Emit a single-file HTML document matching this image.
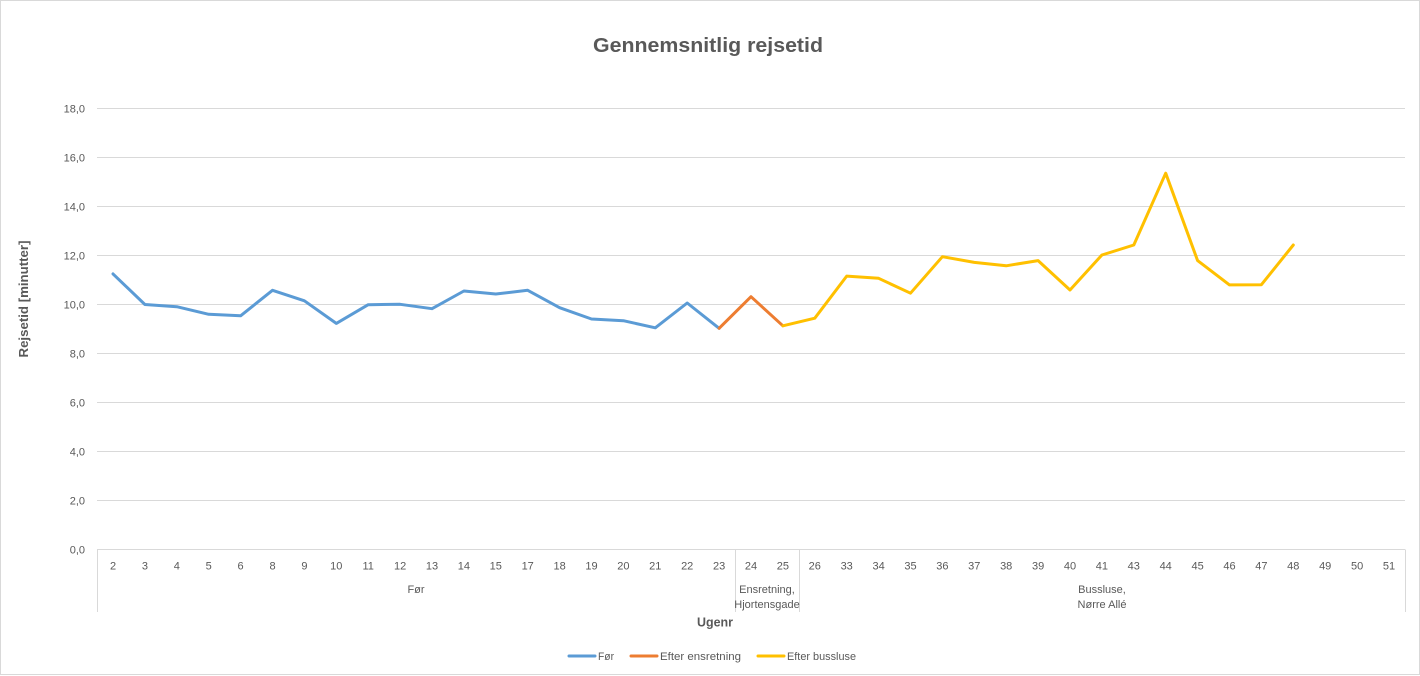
<!DOCTYPE html>
<html>
<head>
<meta charset="utf-8">
<style>
html,body{margin:0;padding:0;background:#fff;}
svg{display:block;}
text{font-family:"Liberation Sans",Arial,sans-serif;fill:#595959;}
</style>
</head>
<body>
<svg width="1420" height="676" viewBox="0 0 1420 676" xmlns="http://www.w3.org/2000/svg">
<rect x="0.5" y="0.5" width="1419" height="674" fill="#fff" stroke="#d9d9d9" stroke-width="1"/>
<text x="708" y="52" font-size="20" font-weight="bold" text-anchor="middle" textLength="230" lengthAdjust="spacingAndGlyphs">Gennemsnitlig rejsetid</text>
<g stroke="#d9d9d9" stroke-width="1">
<line x1="97" y1="108.5" x2="1405" y2="108.5"/>
<line x1="97" y1="157.5" x2="1405" y2="157.5"/>
<line x1="97" y1="206.5" x2="1405" y2="206.5"/>
<line x1="97" y1="255.5" x2="1405" y2="255.5"/>
<line x1="97" y1="304.5" x2="1405" y2="304.5"/>
<line x1="97" y1="353.5" x2="1405" y2="353.5"/>
<line x1="97" y1="402.5" x2="1405" y2="402.5"/>
<line x1="97" y1="451.5" x2="1405" y2="451.5"/>
<line x1="97" y1="500.5" x2="1405" y2="500.5"/>
<line x1="97" y1="549.5" x2="1405" y2="549.5"/>
<line x1="97.5" y1="549.5" x2="97.5" y2="612"/>
<line x1="735.5" y1="549.5" x2="735.5" y2="612"/>
<line x1="799.5" y1="549.5" x2="799.5" y2="612"/>
<line x1="1405.5" y1="549.5" x2="1405.5" y2="612"/>
</g>
<g font-size="11" text-anchor="end">
<text x="85" y="112.5">18,0</text>
<text x="85" y="161.5">16,0</text>
<text x="85" y="210.5">14,0</text>
<text x="85" y="259.5">12,0</text>
<text x="85" y="308.5">10,0</text>
<text x="85" y="357.5">8,0</text>
<text x="85" y="406.5">6,0</text>
<text x="85" y="455.5">4,0</text>
<text x="85" y="504.5">2,0</text>
<text x="85" y="553.5">0,0</text>
</g>
<text transform="translate(28,299) rotate(-90)" font-size="12.5" font-weight="bold" text-anchor="middle" textLength="117" lengthAdjust="spacingAndGlyphs">Rejsetid [minutter]</text>
<g font-size="11" text-anchor="middle">
<text x="113" y="569.5">2</text>
<text x="144.9" y="569.5">3</text>
<text x="176.8" y="569.5">4</text>
<text x="208.7" y="569.5">5</text>
<text x="240.6" y="569.5">6</text>
<text x="272.5" y="569.5">8</text>
<text x="304.4" y="569.5">9</text>
<text x="336.3" y="569.5">10</text>
<text x="368.2" y="569.5">11</text>
<text x="400.1" y="569.5">12</text>
<text x="432" y="569.5">13</text>
<text x="463.9" y="569.5">14</text>
<text x="495.8" y="569.5">15</text>
<text x="527.7" y="569.5">17</text>
<text x="559.6" y="569.5">18</text>
<text x="591.5" y="569.5">19</text>
<text x="623.4" y="569.5">20</text>
<text x="655.3" y="569.5">21</text>
<text x="687.2" y="569.5">22</text>
<text x="719.1" y="569.5">23</text>
<text x="751" y="569.5">24</text>
<text x="782.9" y="569.5">25</text>
<text x="814.8" y="569.5">26</text>
<text x="846.7" y="569.5">33</text>
<text x="878.6" y="569.5">34</text>
<text x="910.5" y="569.5">35</text>
<text x="942.4" y="569.5">36</text>
<text x="974.3" y="569.5">37</text>
<text x="1006.2" y="569.5">38</text>
<text x="1038.1" y="569.5">39</text>
<text x="1070" y="569.5">40</text>
<text x="1101.9" y="569.5">41</text>
<text x="1133.8" y="569.5">43</text>
<text x="1165.7" y="569.5">44</text>
<text x="1197.6" y="569.5">45</text>
<text x="1229.5" y="569.5">46</text>
<text x="1261.4" y="569.5">47</text>
<text x="1293.3" y="569.5">48</text>
<text x="1325.2" y="569.5">49</text>
<text x="1357.1" y="569.5">50</text>
<text x="1389" y="569.5">51</text>
<text x="416" y="593">Før</text>
<text x="767" y="593">Ensretning,</text>
<text x="767" y="608">Hjortensgade</text>
<text x="1102" y="593">Bussluse,</text>
<text x="1102" y="608">Nørre Allé</text>
</g>
<text x="715" y="626.5" font-size="12.5" font-weight="bold" text-anchor="middle" textLength="36" lengthAdjust="spacingAndGlyphs">Ugenr</text>
<g fill="none" stroke-width="3" stroke-linejoin="round" stroke-linecap="round">
<polyline stroke="#5b9bd5" points="113,273.9 144.9,304.5 176.8,306.7 208.7,314.3 240.6,315.8 272.5,290.3 304.4,300.8 336.3,323.4 368.2,304.7 400.1,304.3 432,308.7 463.9,291 495.8,294 527.7,290.3 559.6,307.7 591.5,319 623.4,320.7 655.3,327.8 687.2,303 719.1,328.3"/>
<polyline stroke="#ed7d31" points="719.1,328.3 751,296.7 782.9,325.8"/>
<polyline stroke="#ffc000" points="782.9,325.8 814.8,318.2 846.7,276.1 878.6,278.3 910.5,293.2 942.4,256.7 974.3,262.4 1006.2,265.8 1038.1,260.6 1070,290 1101.9,255 1133.8,245 1165.7,173.2 1197.6,260.6 1229.5,284.9 1261.4,284.7 1293.3,245"/>
</g>
<g stroke-width="3" stroke-linecap="round">
<line x1="569" y1="656" x2="595" y2="656" stroke="#5b9bd5"/>
<line x1="631" y1="656" x2="657" y2="656" stroke="#ed7d31"/>
<line x1="758" y1="656" x2="784" y2="656" stroke="#ffc000"/>
</g>
<g font-size="11">
<text x="598" y="660" textLength="16" lengthAdjust="spacingAndGlyphs">Før</text>
<text x="660" y="660" textLength="81" lengthAdjust="spacingAndGlyphs">Efter ensretning</text>
<text x="787" y="660" textLength="69" lengthAdjust="spacingAndGlyphs">Efter bussluse</text>
</g>
</svg>
</body>
</html>
